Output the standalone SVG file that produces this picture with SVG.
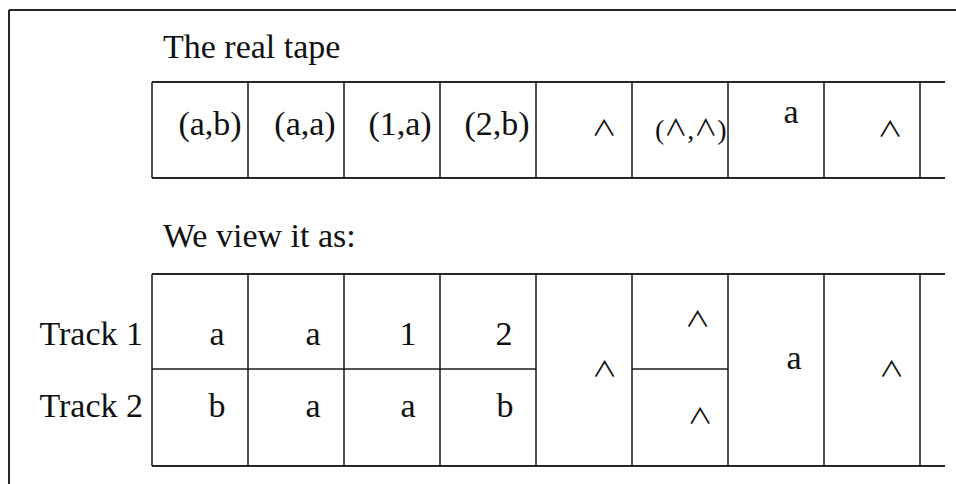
<svg xmlns="http://www.w3.org/2000/svg" width="956" height="484" viewBox="0 0 956 484">
<style>
.t{font-family:"Liberation Serif","DejaVu Serif",serif;font-size:34px;fill:#111}
.s{font-family:"Noto Sans CJK JP","DejaVu Sans",sans-serif;font-size:28px;fill:#111;text-anchor:middle}
.k{font-family:"Noto Sans CJK JP","DejaVu Sans",sans-serif;font-size:23px}
.h{stroke:#262626;stroke-width:2;fill:none}
.v{stroke:#1a1a1a;stroke-width:1.5;fill:none}
.m{text-anchor:middle}
.e{text-anchor:end}
</style>
<g id="frame">
<path class="h" d="M9,10 H956 M9,10 V484"/>
</g>
<g id="title-real"><text class="t" x="163" y="58">The real tape</text></g>
<g id="title-view"><text class="t" x="163" y="247">We view it as:</text></g>
<g id="labels">
<text class="t e" x="143" y="345">Track 1</text>
<text class="t e" x="143" y="417">Track 2</text>
</g>
<g id="connectors">
<path class="h" d="M152,82 H945 M152,178 H945"/>
<path class="v" d="M152,82 V178 M248,82 V178 M344,82 V178 M440,82 V178 M536,82 V178 M632,82 V178 M728,82 V178 M824,82 V178 M920,82 V178"/>
<path class="h" d="M152,274 H945 M152,466 H945"/>
<path class="v" d="M152,274 V466 M248,274 V466 M344,274 V466 M440,274 V466 M536,274 V466 M632,274 V466 M728,274 V466 M824,274 V466 M920,274 V466"/>
<path class="v" d="M152,369 H536 M632,369 H728"/>
</g>
<g id="real-tape">
<text class="t m" x="210" y="135">(a,b)</text>
<text class="t m" x="305" y="135">(a,a)</text>
<text class="t m" x="400" y="135">(1,a)</text>
<text class="t m" x="497" y="135">(2,b)</text>
<text class="s" transform="translate(604,136) scale(0.9,0.78)">∧</text>
<text class="t" x="655" y="139" style="font-size:28px">(<tspan class="k" y="136">∧</tspan><tspan y="139">,</tspan><tspan class="k" y="136">∧</tspan><tspan y="139">)</tspan></text>
<text class="t m" x="791" y="123">a</text>
<text class="s" transform="translate(890,137) scale(0.9,0.78)">∧</text>
</g>
<g id="view-tape">
<text class="t m" x="217" y="345">a</text>
<text class="t m" x="313" y="345">a</text>
<text class="t m" x="408" y="345">1</text>
<text class="t m" x="504" y="345">2</text>
<text class="t m" x="217" y="417">b</text>
<text class="t m" x="313" y="417">a</text>
<text class="t m" x="408" y="417">a</text>
<text class="t m" x="505" y="417">b</text>
<text class="s" transform="translate(604.5,377) scale(0.9,0.78)">∧</text>
<text class="s" transform="translate(697.5,327) scale(0.9,0.78)">∧</text>
<text class="s" transform="translate(700,424) scale(0.9,0.78)">∧</text>
<text class="t m" x="794" y="369">a</text>
<text class="s" transform="translate(891.5,377) scale(0.9,0.78)">∧</text>
</g>
</svg>
